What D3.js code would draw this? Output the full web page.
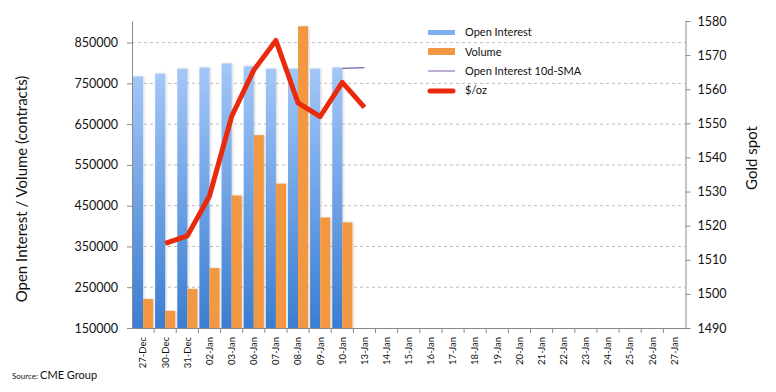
<!DOCTYPE html>
<html><head><meta charset="utf-8">
<script src="https://cdn.jsdelivr.net/npm/d3@7/dist/d3.min.js"></script>
<style>body{margin:0;background:#fff;}svg{display:block;font-family:Lato,"Open Sans",sans-serif;}</style>
</head><body><svg id="c" width="776" height="392"></svg>
<script>
const categories = ["27-Dec","30-Dec","31-Dec","02-Jan","03-Jan","06-Jan","07-Jan","08-Jan","09-Jan","10-Jan","13-Jan","14-Jan","15-Jan","16-Jan","17-Jan","18-Jan","19-Jan","20-Jan","21-Jan","22-Jan","23-Jan","24-Jan","25-Jan","26-Jan","27-Jan"];
const openInterest = [767000,774000,786000,789000,799000,792000,786000,786000,786000,789000];
const volume = [221000,192000,246000,297000,475000,623000,504000,890000,421000,409000];
const oiSMA = [null,null,null,null,null,null,null,null,null,787000,788500];
const goldSpot = [null,1514.8,1517,1528.7,1552,1565.6,1574.3,1556,1552,1562,1554.7];
const leftTicks = [150000,250000,350000,450000,550000,650000,750000,850000];
const rightTicks = [1490,1500,1510,1520,1530,1540,1550,1560,1570,1580];

const svg = d3.select("#c");
const L = 132, R = 685.5, T = 21, B = 328;
const x = d3.scaleBand().domain(categories).range([L, R]).padding(0);
const bw = x.bandwidth();
const x1 = d3.scaleBand().domain(["oi","vol"]).range([1, bw - 1]).padding(0);
const yL = d3.scaleLinear().domain([150000, 903000]).range([B, T]);
const yR = d3.scaleLinear().domain([1490, 1580]).range([B, T]);

const defs = svg.append("defs");
const g1 = defs.append("linearGradient").attr("id","blueGrad").attr("x1",0).attr("y1",0).attr("x2",0).attr("y2",1);
g1.append("stop").attr("offset","0%").attr("stop-color","#a3c7f8");
g1.append("stop").attr("offset","100%").attr("stop-color","#3a7dd1");
const f = defs.append("filter").attr("id","sh").attr("x","-20%").attr("y","-5%").attr("width","150%").attr("height","110%");
f.append("feDropShadow").attr("dx",1).attr("dy",0).attr("stdDeviation",0.8).attr("flood-color","#000").attr("flood-opacity",0.18);

// gridlines
svg.append("g").selectAll("line").data(leftTicks.slice(1)).join("line")
  .attr("x1", L).attr("x2", R).attr("y1", d => yL(d)).attr("y2", d => yL(d))
  .attr("stroke", "#bdbdbd").attr("stroke-dasharray", "3,3").attr("stroke-width", 1);

// bars
const bars = svg.append("g");
bars.selectAll("rect.oi").data(openInterest).join("rect").attr("class","oi")
  .attr("x", (d,i) => x(categories[i]) + x1("oi")).attr("width", x1.bandwidth())
  .attr("y", d => yL(d)).attr("height", d => B - yL(d))
  .attr("fill", "url(#blueGrad)").attr("filter","url(#sh)");
bars.selectAll("rect.vol").data(volume).join("rect").attr("class","vol")
  .attr("x", (d,i) => x(categories[i]) + x1("vol")).attr("width", x1.bandwidth())
  .attr("y", d => yL(d)).attr("height", d => B - yL(d))
  .attr("fill", "#f29842").attr("filter","url(#sh)");

// SMA line
const smaLine = d3.line().defined(d => d != null)
  .x((d,i) => x(categories[i]) + bw/2).y(d => yL(d));
svg.append("path").datum(oiSMA).attr("d", smaLine)
  .attr("fill","none").attr("stroke","#7b5ea8").attr("stroke-width",1.2);

// gold line
const goldLine = d3.line().defined(d => d != null)
  .x((d,i) => x(categories[i]) + bw/2).y(d => yR(d));
svg.append("path").datum(goldSpot).attr("d", goldLine)
  .attr("fill","none").attr("stroke","#ea2a0c").attr("stroke-width",5)
  .attr("stroke-linejoin","round").attr("stroke-linecap","butt");

// left axis
const axL = svg.append("g").attr("transform", `translate(${L},0)`)
  .call(d3.axisLeft(yL).tickValues(leftTicks).tickFormat(d3.format("d")).tickSize(5).tickPadding(9).tickSizeOuter(0));
axL.select(".domain").attr("stroke","#8a8a8a");
axL.selectAll(".tick line").attr("stroke","#8a8a8a");
axL.selectAll("text").attr("font-size", 12.5).attr("fill","#111").attr("font-family","Lato");

// right axis
const axR = svg.append("g").attr("transform", `translate(${R},0)`)
  .call(d3.axisRight(yR).tickValues(rightTicks).tickFormat(d3.format("d")).tickSize(5).tickPadding(7).tickSizeOuter(0));
axR.select(".domain").attr("stroke","#8a8a8a");
axR.selectAll(".tick line").attr("stroke","#8a8a8a");
axR.selectAll("text").attr("font-size", 12.5).attr("fill","#111").attr("font-family","Lato");

// x axis
const axX = svg.append("g").attr("transform", `translate(0,${B})`)
  .call(d3.axisBottom(x).tickSize(0).tickSizeOuter(0));
axX.select(".domain").attr("stroke","#8a8a8a");
axX.selectAll(".tick text")
  .attr("transform","rotate(-90)").attr("text-anchor","end")
  .attr("x",-9).attr("y",0).attr("dy","0.35em")
  .attr("font-size", 9.5).attr("fill","#111").attr("font-family","Lato");
axX.append("g").selectAll("line").data(categories.slice(1)).join("line")
  .attr("x1", d => x(d)).attr("x2", d => x(d)).attr("y1",0).attr("y2",5)
  .attr("stroke","#8a8a8a");

// axis titles
svg.append("text").attr("transform","translate(27,189) rotate(-90)")
  .attr("text-anchor","middle").attr("font-size",15).attr("fill","#111").attr("font-family","Lato")
  .text("Open Interest / Volume (contracts)");
svg.append("text").attr("transform","translate(757,158) rotate(-90)")
  .attr("text-anchor","middle").attr("font-size",15).attr("fill","#111").attr("font-family","Lato")
  .text("Gold spot");

// legend
const leg = svg.append("g").attr("font-family","Lato").attr("font-size",11).attr("fill","#111");
const lx = 428, lw = 27, tx = 465;
leg.append("rect").attr("x",lx).attr("y",30).attr("width",lw).attr("height",5).attr("fill","#7fb0ef");
leg.append("text").attr("x",tx).attr("y",32).attr("dy","0.35em").text("Open Interest");
leg.append("rect").attr("x",lx).attr("y",48).attr("width",lw).attr("height",7).attr("fill","#f29842");
leg.append("text").attr("x",tx).attr("y",52).attr("dy","0.35em").text("Volume");
leg.append("line").attr("x1",lx).attr("x2",lx+lw).attr("y1",71).attr("y2",71).attr("stroke","#7b5ea8").attr("stroke-width",1);
leg.append("text").attr("x",tx).attr("y",71).attr("dy","0.35em").text("Open Interest 10d-SMA");
leg.append("line").attr("x1",lx+2).attr("x2",lx+lw-2).attr("y1",91).attr("y2",91).attr("stroke","#ea2a0c").attr("stroke-width",5).attr("stroke-linecap","round");
leg.append("text").attr("x",tx).attr("y",90).attr("dy","0.35em").text("$/oz");

// source
const src = svg.append("text").attr("x",12).attr("y",379).attr("font-family","Lato").attr("fill","#111");
src.append("tspan").attr("font-size",8).text("Source: ");
src.append("tspan").attr("font-size",11).text("CME Group");
</script>
</body></html>
